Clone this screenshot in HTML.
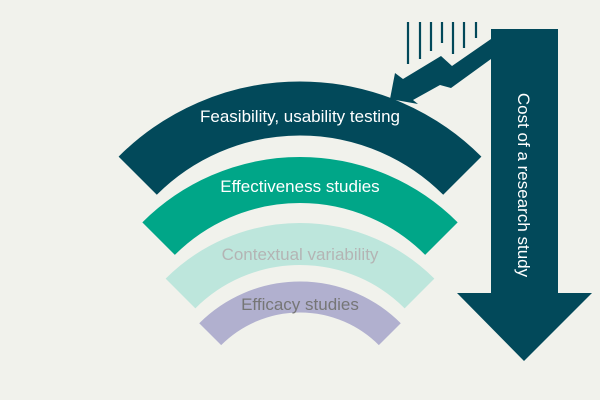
<!DOCTYPE html>
<html><head><meta charset="utf-8"><style>
html,body{margin:0;padding:0;background:#f1f2ec}
svg{display:block}
text{font-family:"Liberation Sans",sans-serif}
</style></head><body>
<svg width="600" height="400" viewBox="0 0 600 400">
<rect width="600" height="400" fill="#f1f2ec"/>
<path d="M137.7,175.7 A229.5,229.5 0 0 1 462.3,175.7" fill="none" stroke="#02495a" stroke-width="54"/>
<path d="M158.6,238.6 A200,200 0 0 1 441.4,238.6" fill="none" stroke="#00a688" stroke-width="46"/>
<path d="M180.5,293.5 A169,169 0 0 1 419.5,293.5" fill="none" stroke="#bde6dc" stroke-width="42"/>
<path d="M210.2,334.2 A127,127 0 0 1 389.8,334.2" fill="none" stroke="#b1b0cf" stroke-width="31"/>
<text x="300" y="122" text-anchor="middle" font-size="17" fill="#ffffff">Feasibility, usability testing</text>
<text x="300" y="192" text-anchor="middle" font-size="17" fill="#ffffff">Effectiveness studies</text>
<text x="300" y="260" text-anchor="middle" font-size="17" fill="#b4b4b4">Contextual variability</text>
<text x="300" y="310" text-anchor="middle" font-size="17" fill="#767676">Efficacy studies</text>
<g stroke="#02495a" stroke-width="2.2">
<line x1="408" y1="22" x2="408" y2="64"/>
<line x1="420" y1="22" x2="420" y2="59"/>
<line x1="431" y1="22" x2="431" y2="51"/>
<line x1="442" y1="22" x2="442" y2="43"/>
<line x1="453" y1="22" x2="453" y2="54"/>
<line x1="464" y1="22" x2="464" y2="48"/>
<line x1="476" y1="22" x2="476" y2="38"/>
</g>
<polygon points="491,39 452,66 441,56 403,79 395,73 390,99 418,104 413,100 440,85 451,88 491,59" fill="#02495a"/>
<polygon points="491,29 558,29 558,293 592,293 524,361 457,293 491,293" fill="#02495a"/>
<text x="0" y="0" font-size="17" fill="#ffffff" text-anchor="middle" transform="translate(518,185) rotate(90)">Cost of a research study</text>
</svg>
</body></html>
